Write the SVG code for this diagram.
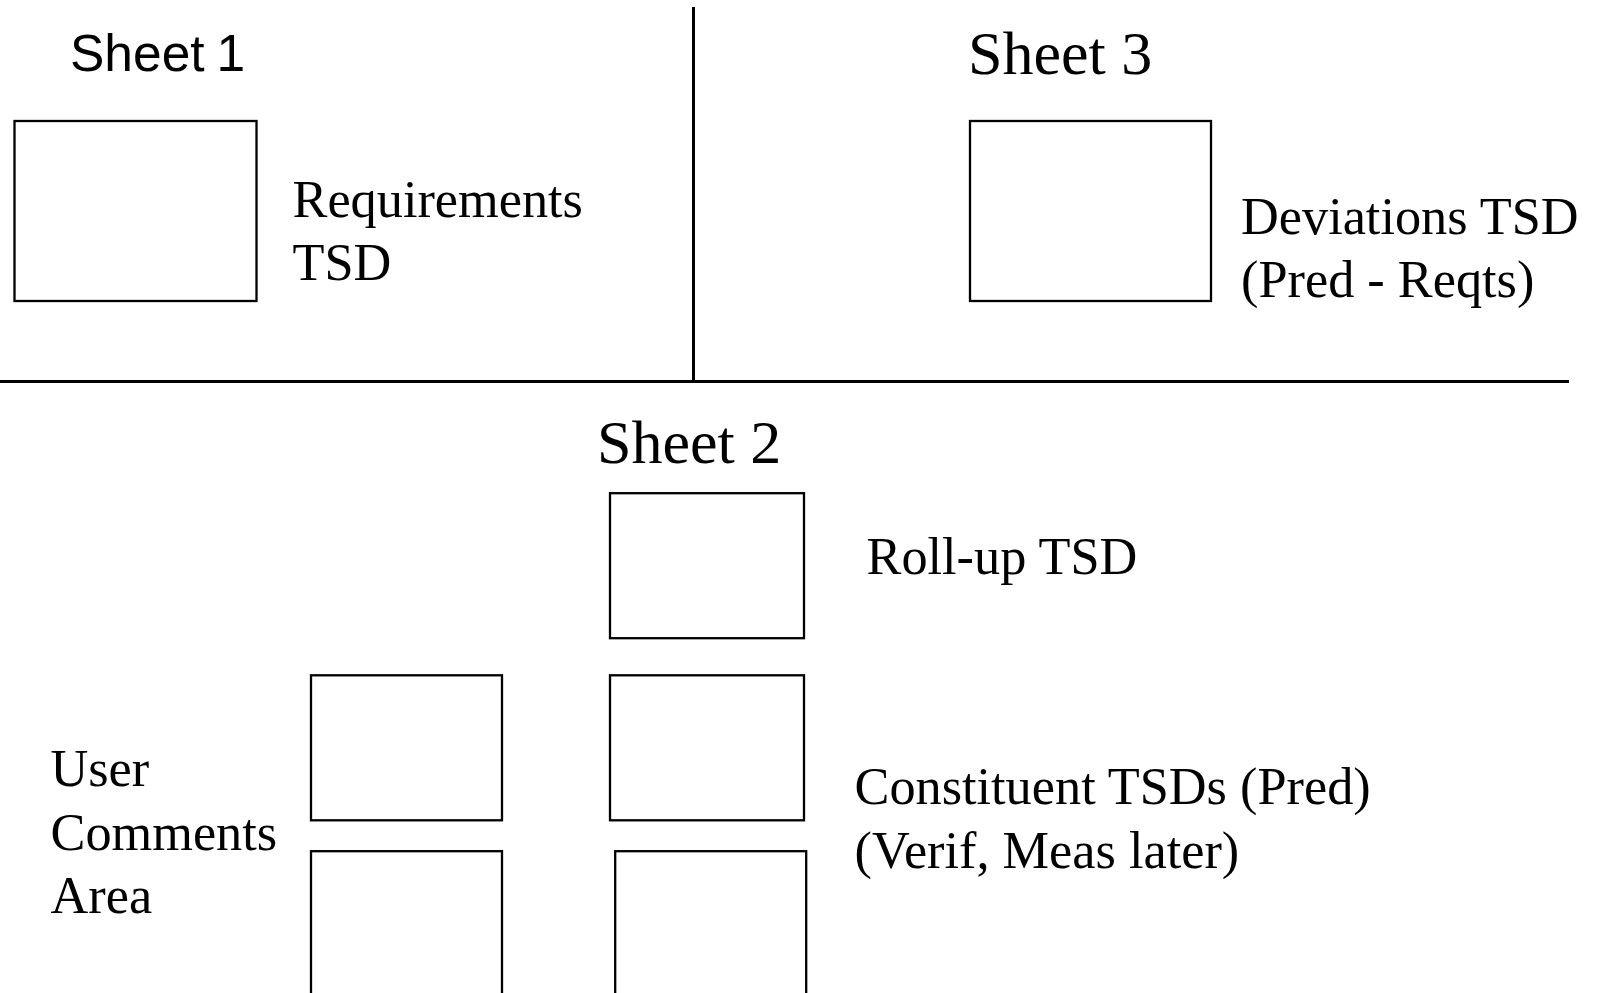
<svg xmlns="http://www.w3.org/2000/svg" width="1599" height="993" viewBox="0 0 1599 993">
  <style>
    .box { fill: none; stroke: #000; stroke-width: 2.3; }
    .rule { stroke: #000; stroke-width: 3; fill: none; }
    .serif { font-family: "Liberation Serif", "Times New Roman", serif; fill: #000; }
    .lbl { font-size: 52.3px; }
    .title { font-size: 62px; }
    .sans { font-family: "Liberation Sans", Arial, sans-serif; font-size: 51.5px; fill: #000; }
  </style>
  <rect width="1599" height="993" fill="#fff"/>

  <!-- dividers between the three sheets -->
  <g id="connectors">
    <line class="rule" x1="693.5" y1="7" x2="693.5" y2="382"/>
    <line class="rule" x1="0" y1="381.5" x2="1569" y2="381.5"/>
  </g>

  <!-- Sheet 1 -->
  <g id="sheet1-title">
    <text class="sans" x="70" y="71">Sheet<tspan x="216.5">1</tspan></text>
  </g>
  <g id="requirements-tsd">
    <rect class="box" x="14.5" y="121" width="242" height="180"/>
    <text class="serif lbl" x="292.5" y="217">Requirements</text>
    <text class="serif lbl" x="292.5" y="280">TSD</text>
  </g>

  <!-- Sheet 3 -->
  <g id="sheet3-title">
    <text class="serif title" x="968" y="73.5">Sheet 3</text>
  </g>
  <g id="deviations-tsd">
    <rect class="box" x="970" y="121" width="241" height="180"/>
    <text class="serif lbl" x="1241" y="234">Deviations TSD</text>
    <text class="serif lbl" x="1241" y="297">(Pred - Reqts)</text>
  </g>

  <!-- Sheet 2 -->
  <g id="sheet2-title">
    <text class="serif title" x="597" y="462.7">Sheet 2</text>
  </g>
  <g id="rollup-tsd">
    <rect class="box" x="610" y="493.2" width="194" height="145"/>
    <text class="serif lbl" x="866.5" y="574">Roll-up TSD</text>
  </g>
  <g id="constituent-tsds">
    <rect class="box" x="610" y="675.3" width="194" height="145"/>
    <rect class="box" x="615.2" y="851.2" width="191" height="200"/>
    <text class="serif lbl" x="854.5" y="804">Constituent TSDs (Pred)</text>
    <text class="serif lbl" x="854.5" y="868">(Verif, Meas later)</text>
  </g>
  <g id="user-comments">
    <rect class="box" x="311" y="675.3" width="191" height="145"/>
    <rect class="box" x="311" y="851.2" width="191" height="200"/>
    <text class="serif lbl" x="50.5" y="786">User</text>
    <text class="serif lbl" x="50.5" y="850">Comments</text>
    <text class="serif lbl" x="50.5" y="912.5">Area</text>
  </g>
</svg>
